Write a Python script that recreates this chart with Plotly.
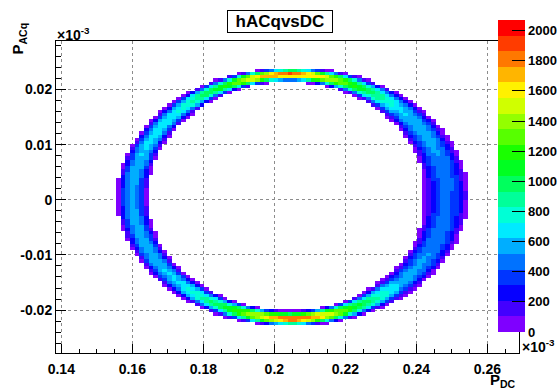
import colorsys
import numpy as np
import plotly.graph_objects as go

# ---------------- histogram binning ----------------
X_MIN, X_MAX, NX = 0.13851, 0.2689, 100
Y_MIN, Y_MAX, NY = -0.02778, 0.02878, 100
Z_MAX = 2070

# ---------------- ring description ----------------
# centre and semi-axes of the ellipse the events lie on
ring_center = (0.2045, 0.0006)
ring_axes = (0.0443, 0.0221)
# per polar angle (deg, in ellipse-normalised coordinates):
# inner / outer edge of the band (normalised radius) and ridge height (counts)
ring_angle = [0, 45, 65, 80, 90, 100, 115, 135, 180, 225, 245, 260, 270, 280, 295, 315]
ring_inner = [0.853, 0.900, 0.930, 0.945, 0.952, 0.950, 0.940, 0.925, 0.910,
              0.925, 0.935, 0.945, 0.948, 0.945, 0.930, 0.900]
ring_outer = [1.133, 1.090, 1.065, 1.050, 1.045, 1.045, 1.055, 1.070, 1.099,
              1.075, 1.065, 1.055, 1.054, 1.055, 1.065, 1.090]
ring_peak = [430, 640, 1150, 1650, 1980, 1750, 1150, 740, 540,
             650, 1050, 1600, 1980, 1750, 1100, 580]

# axis labelling
x_ticks = [0.14, 0.16, 0.18, 0.2, 0.22, 0.24, 0.26]
x_tick_text = ["0.14", "0.16", "0.18", "0.2", "0.22", "0.24", "0.26"]
y_ticks = [-0.02, -0.01, 0.0, 0.01, 0.02]
y_tick_text = ["-0.02", "-0.01", "0", "0.01", "0.02"]
z_ticks = list(range(0, 2001, 200))


def periodic(angle_deg, table):
    a = np.asarray(ring_angle + [ring_angle[0] + 360], float)
    v = np.asarray(table + [table[0]], float)
    return np.interp(np.mod(angle_deg, 360.0), a, v)


def fill_histogram(sub=5):
    dx = (X_MAX - X_MIN) / NX
    dy = (Y_MAX - Y_MIN) / NY
    # sub-sample every bin so that partially covered edge bins get fewer entries
    fx = (np.arange(NX * sub) + 0.5) * dx / sub + X_MIN
    fy = (np.arange(NY * sub) + 0.5) * dy / sub + Y_MIN
    gx, gy = np.meshgrid(fx, fy)
    u = (gx - ring_center[0]) / ring_axes[0]
    v = (gy - ring_center[1]) / ring_axes[1]
    rho = np.hypot(u, v)
    ang = np.degrees(np.arctan2(v, u))
    r_in = periodic(ang, ring_inner)
    r_out = periodic(ang, ring_outer)
    peak = periodic(ang, ring_peak)
    t = (rho - r_in) / (r_out - r_in)
    inside = (t > 0) & (t < 1)
    val = np.where(inside, peak * np.sin(np.pi * np.clip(t, 0, 1)) ** 0.8, 0.0)
    z = val.reshape(NY, sub, NX, sub).mean(axis=(1, 3))
    z[z < 8] = np.nan
    xc = X_MIN + (np.arange(NX) + 0.5) * dx
    yc = Y_MIN + (np.arange(NY) + 0.5) * dy
    return xc, yc, z


def band_colorscale(n=20):
    stops = []
    for k in range(n):
        hue = 270.0 * (1 - k / (n - 1)) / 360.0
        r, g, b = colorsys.hsv_to_rgb(hue, 1.0, 1.0)
        col = f"rgb({int(r*255)},{int(g*255)},{int(b*255)})"
        stops.append([k / n, col])
        stops.append([(k + 1) / n, col])
    return stops


xc, yc, z = fill_histogram()

# pixel geometry of the frame
L, R, T, B = 56.0, 519.0, 40.5, 353.0
W, H = 560, 390
PW, PH = R - L, B - T


def px(xp):
    return (xp - L) / PW


def py(yp):
    return (B - yp) / PH


FONT = "Liberation Sans, Arial, sans-serif"

fig = go.Figure()
fig.add_trace(go.Heatmap(
    x=xc, y=yc, z=z, zmin=0, zmax=Z_MAX,
    colorscale=band_colorscale(20), hoverongaps=False,
    colorbar=dict(
        x=px(498), xanchor="left", xpad=0,
        y=py(332), yanchor="bottom", ypad=0,
        len=(332 - 19) / PH, lenmode="fraction",
        thickness=27, outlinewidth=0,
        tickmode="array", tickvals=z_ticks,
        ticks="inside", ticklen=13, tickcolor="black", tickwidth=1,
        tickfont=dict(family=FONT, size=13, color="black", weight="bold"),
    ),
))

axis_common = dict(
    showline=True, linecolor="black", linewidth=1, mirror=True,
    ticks="inside", tickcolor="black", tickwidth=1,
    showgrid=True, gridcolor="#8c8c8c", griddash="dot", gridwidth=1,
    zeroline=False,
    tickfont=dict(family=FONT, size=14, color="black", weight="bold"),
)

fig.update_xaxes(
    range=[X_MIN, X_MAX], tickmode="array", tickvals=x_ticks, ticktext=x_tick_text,
    ticklen=9, ticklabelstandoff=3,
    minor=dict(tickmode="linear", tick0=0.14, dtick=0.005, ticks="inside",
               ticklen=4.5, tickcolor="black", showgrid=False),
    **axis_common,
)
fig.update_yaxes(
    range=[Y_MIN, Y_MAX], tickmode="array", tickvals=y_ticks, ticktext=y_tick_text,
    ticklen=10, ticklabelstandoff=0,
    minor=dict(tickmode="linear", tick0=0.0, dtick=0.002, ticks="inside",
               ticklen=5, tickcolor="black", showgrid=False),
    **axis_common,
)

annots = [
    # title box
    dict(x=px(280), y=py(20.5), xanchor="center", yanchor="middle",
         text="<b>hACqvsDC</b>",
         font=dict(family=FONT, size=17, color="black"),
         bordercolor="black", borderwidth=1, borderpad=2, bgcolor="white",
         width=100, height=17),
    # axis titles
    dict(x=px(19), y=py(38), xanchor="center", yanchor="middle",
         text="<b>P<sub>ACq</sub></b>", textangle=-90,
         font=dict(family=FONT, size=15, color="black")),
    dict(x=px(518), y=py(381), xanchor="right", yanchor="middle",
         text="<b>P<sub>DC</sub></b>",
         font=dict(family=FONT, size=15, color="black")),
    # exponent labels
    dict(x=px(55), y=py(33), xanchor="left", yanchor="middle",
         text="<b>×10<sup>-3</sup></b>",
         font=dict(family=FONT, size=14, color="black")),
    dict(x=px(520), y=py(346), xanchor="left", yanchor="middle",
         text="<b>×10<sup>-3</sup></b>",
         font=dict(family=FONT, size=14, color="black")),
]
for a in annots:
    fig.add_annotation(xref="paper", yref="paper", showarrow=False, **a)

fig.update_layout(
    width=W, height=H,
    margin=dict(l=L, r=W - R, t=T, b=H - B, pad=0, autoexpand=False),
    paper_bgcolor="white", plot_bgcolor="white",
    showlegend=False,
)

fig.write_html("out.html")
